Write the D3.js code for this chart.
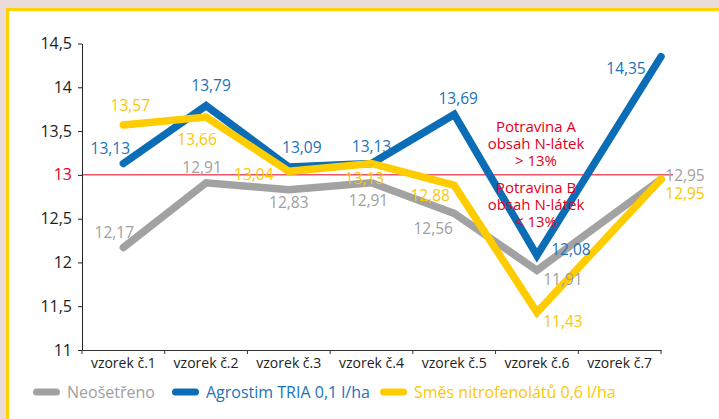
<!DOCTYPE html>
<html><head><meta charset="utf-8">
<script src="https://cdn.jsdelivr.net/npm/d3@7"></script>
<style>
html,body{margin:0;padding:0;background:#ecdcd9;}
svg{display:block;}
text{font-family:"Open Sans",sans-serif;}
</style></head>
<body>
<svg id="c" width="719" height="419"></svg>
<script>
// ---- data ----
const categories = ["vzorek č.1","vzorek č.2","vzorek č.3","vzorek č.4","vzorek č.5","vzorek č.6","vzorek č.7"];
const neosetreno = [12.17, 12.91, 12.83, 12.91, 12.56, 11.91, 12.95];
const agrostim   = [13.13, 13.79, 13.09, 13.13, 13.69, 12.08, 14.35];
const smes       = [13.57, 13.66, 13.04, 13.13, 12.88, 11.43, 12.95];
const yTicks = [11, 11.5, 12, 12.5, 13, 13.5, 14, 14.5];
const seriesNames = ["Neošetřeno", "Agrostim TRIA 0,1 l/ha", "Směs nitrofenolátů 0,6 l/ha"];
const threshold = 13;
const noteA = ["Potravina A", "obsah N-látek", "> 13%"];
const noteB = ["Potravina B", "obsah N-látek", "< 13%"];

// ---- layout / style ----
const colors = ["#a2a2a2", "#0a6db6", "#ffcc00"];
const textColors = ["#a0a0a0", "#1a73ba", "#fcc700"];
const red = "#e3001b";
// label offsets (dx, dy) relative to each point
const labelOffsets = [
  [[-9,-15],[-4,-15],[0,13],[-3,18],[-21,15],[26,9],[24,-4]],
  [[-13,-15],[5,-20],[13,-19],[0,-17],[4,-16],[34,-6],[-35,12]],
  [[7,-19],[-9,23],[-35,3],[-7,15],[-24,10],[26,9],[24,14]]
];
const fmt = v => d3.format(".2f")(v).replace(".", ",");
const fmtTick = v => String(v).replace(".", ",");

const svg = d3.select("#c");
// panel
svg.append("rect").attr("x",7.5).attr("y",9.5).attr("width",730).attr("height",430)
  .attr("fill","#fff").attr("stroke","#ffd200").attr("stroke-width",3);

const x = d3.scaleBand().domain(categories).range([82, 661]);
const y = d3.scaleLinear().domain([11, 14.5]).range([350, 43.5]);
const px = i => i === categories.length - 1 ? x.range()[1] : x(categories[i]) + x.bandwidth() / 2;

// threshold line
svg.append("line").attr("x1",82).attr("x2",673).attr("y1",y(threshold)).attr("y2",y(threshold))
  .attr("stroke",red).attr("stroke-width",1);

// y axis
const yAxis = svg.append("g").attr("transform","translate(82,0)")
  .call(d3.axisLeft(y).tickValues(yTicks).tickFormat(fmtTick).tickSize(4).tickSizeOuter(0));
yAxis.select(".domain").attr("stroke","#222");
yAxis.selectAll(".tick line").attr("stroke","#222");
yAxis.selectAll(".tick text").attr("x",-10).attr("font-size",16).attr("font-family","Open Sans")
  .attr("fill", d => d === threshold ? red : "#1e1e1e");

// x axis
const xAxis = svg.append("g").attr("transform","translate(0,350)")
  .call(d3.axisBottom(x).tickSize(0).tickSizeOuter(0));
xAxis.select(".domain").attr("stroke","#333");
xAxis.selectAll(".tick text").attr("y",8).attr("font-size",14).attr("font-family","Open Sans").attr("fill","#222");
const bounds = categories.map(c => x(c)).concat([x.range()[1]]);
svg.append("g").selectAll("line").data(bounds).join("line")
  .attr("x1",d=>d).attr("x2",d=>d).attr("y1",350).attr("y2",354).attr("stroke","#333");

// series lines
const allSeries = [neosetreno, agrostim, smes];
const line = d3.line().x((d,i)=>px(i)).y(d=>y(d));
allSeries.forEach((s,k)=>{
  svg.append("path").datum(s).attr("d",line).attr("fill","none")
    .attr("stroke",colors[k]).attr("stroke-width",7.5)
    .attr("stroke-linecap","round").attr("stroke-linejoin","miter").attr("stroke-miterlimit",3);
});

// value labels
allSeries.forEach((s,k)=>{
  svg.append("g").selectAll("text").data(s).join("text")
    .attr("x",(d,i)=>px(i)+labelOffsets[k][i][0])
    .attr("y",(d,i)=>y(d)+labelOffsets[k][i][1])
    .attr("dy","0.35em").attr("text-anchor","middle")
    .attr("font-size",15.5).attr("fill",textColors[k]).text(d=>fmt(d));
});

// notes
function note(lines, y0){
  svg.append("g").selectAll("text").data(lines).join("text")
    .attr("x",536).attr("y",(d,i)=>y0+i*16.8).attr("dy","0.35em")
    .attr("text-anchor","middle").attr("font-size",15).attr("fill",red).text(d=>d);
}
note(noteA, 127);
note(noteB, 188);

// legend
const legendX = [33, 172, 380];
const lg = svg.append("g").attr("transform","translate(0,392)");
seriesNames.forEach((n,k)=>{
  lg.append("line").attr("x1",legendX[k]+3.5).attr("x2",legendX[k]+23.5).attr("y1",0).attr("y2",0)
    .attr("stroke",colors[k]).attr("stroke-width",7).attr("stroke-linecap","round");
  lg.append("text").attr("x",legendX[k]+34).attr("y",0).attr("dy","0.35em")
    .attr("font-size",16).attr("fill",textColors[k]).text(n);
});
</script>
</body></html>
